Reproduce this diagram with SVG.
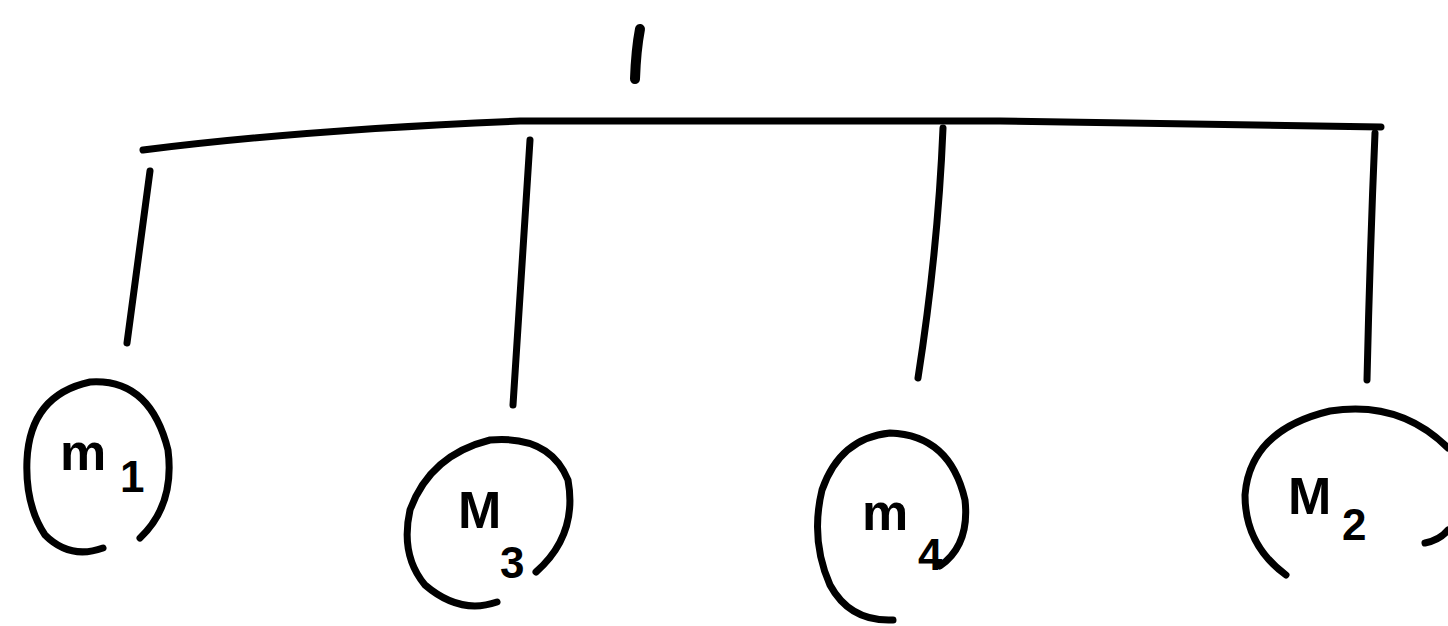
<svg xmlns="http://www.w3.org/2000/svg" width="1448" height="626" viewBox="0 0 1448 626">
<style>
.s{fill:none;stroke:#000;stroke-width:7;stroke-linecap:round;stroke-linejoin:round}
.t{font-family:"Liberation Sans",Arial,sans-serif;fill:#000;font-weight:bold}
.m{font-size:52px}
.sub{font-size:44px}
</style>
<rect width="1448" height="626" fill="#fff"/>
<g id="root">
<path class="s" style="stroke-width:10" d="M640 29 Q636 50 635 79"/>
</g>
<g id="connectors">
<path class="s" d="M143 150 Q300 130 520 121 L1000 121 L1381 127"/>
<path class="s" d="M150 171 L127 343"/>
<path class="s" d="M530 140 L513 405"/>
<path class="s" d="M943 128 Q938 250 918 378"/>
<path class="s" d="M1375 133 Q1370 250 1367 380"/>
</g>
<g id="m1">
<path class="s" d="M103 548 Q70 560 45 535 Q25 505 27 460 Q30 395 90 382 Q150 378 168 450 Q175 505 140 538"/>
<text class="t m" x="60" y="470">m</text>
<text class="t sub" x="120" y="492">1</text>
</g>
<g id="m3">
<path class="s" d="M497 602 Q460 615 425 585 Q400 555 410 510 Q430 455 490 440 Q550 435 568 480 Q578 535 536 572"/>
<text class="t m" x="458" y="528">M</text>
<text class="t sub" x="500" y="578">3</text>
</g>
<g id="m4">
<path class="s" d="M893 620 Q850 622 830 585 Q810 540 822 490 Q840 438 890 433 Q950 435 965 500 Q970 545 940 566"/>
<text class="t m" x="862" y="530">m</text>
<text class="t sub" x="918" y="570">4</text>
</g>
<g id="m2">
<path class="s" d="M1286 575 Q1245 545 1245 495 Q1250 430 1330 411 Q1400 400 1448 448"/>
<path class="s" d="M1425 543 Q1440 540 1448 530"/>
<text class="t m" x="1288" y="514">M</text>
<text class="t sub" x="1342" y="540">2</text>
</g>
</svg>
